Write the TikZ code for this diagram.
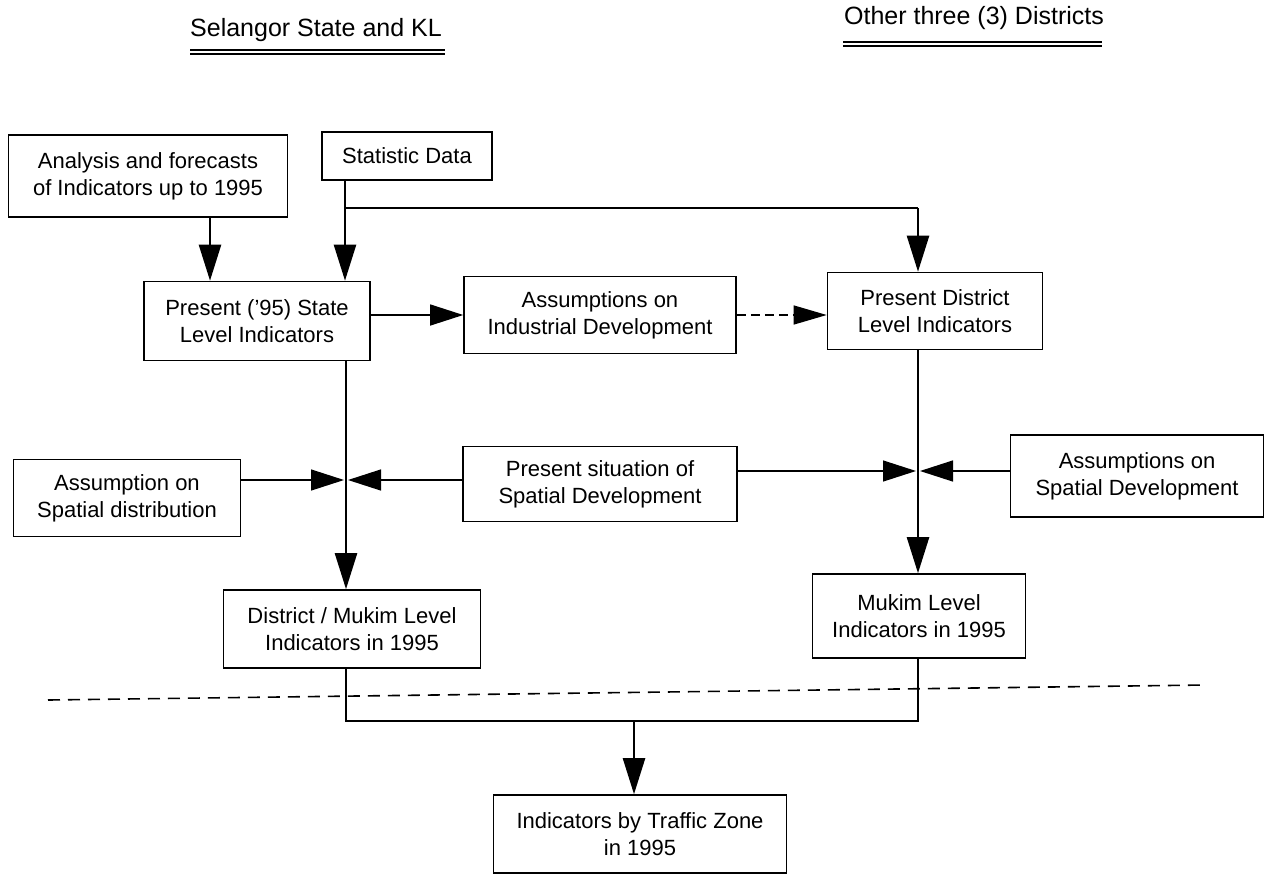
\documentclass[tikz,border=0pt]{standalone}
\usepackage{fontspec}
\setmainfont{Liberation Sans}
\usetikzlibrary{arrows.meta}
\tikzset{
  box/.style={draw, line width=1.6pt, align=center, inner sep=0pt,
    font=\fontsize{22}{27}\selectfont},
  ttl/.style={anchor=base, inner sep=0pt, font=\fontsize{25}{30}\selectfont},
  vline/.style={line width=2.4pt},
  hline/.style={line width=1.3pt},
  varr/.style={vline, -{Triangle[length=36pt,width=22pt]}},
  harr/.style={hline, -{Triangle[length=33pt,width=21pt]}},
  uline/.style={line width=1.4pt},
  dline/.style={line width=1.6pt, dash pattern=on 12pt off 8pt}
}
\begin{document}
\begin{tikzpicture}[x=1pt,y=-1pt]
\useasboundingbox (0,0) rectangle (1269,876);
% titles
\node[ttl] (t1) at (316,36) {Selangor State and KL};
\node[ttl] (t2) at (974,24) {Other three (3) Districts};
\draw[uline] (190,50) -- (445,50);
\draw[uline] (190,54) -- (445,54);
\draw[uline] (843,42) -- (1102,42);
\draw[uline] (843,46) -- (1102,46);
% boxes
\node[box, minimum width=279, minimum height=82] (ana) at (148,176) {Analysis and forecasts\\of Indicators up to 1995};
\node[box, minimum width=170, minimum height=48] (stat) at (407,156) {Statistic Data};
\node[box, minimum width=226, minimum height=79] (state) at (257,321) {Present ('95) State\\Level Indicators};
\node[box, minimum width=272, minimum height=77] (ind) at (600,315) {Assumptions on\\Industrial Development};
\node[box, minimum width=215, minimum height=77] (pdist) at (935,311) {Present District\\Level Indicators};
\node[box, minimum width=227, minimum height=77] (asd) at (127,498) {Assumption on\\Spatial distribution};
\node[box, minimum width=274, minimum height=75] (psd) at (600,484) {Present situation of\\Spatial Development};
\node[box, minimum width=253, minimum height=82] (pad) at (1137,476) {Assumptions on\\Spatial Development};
\node[box, minimum width=257, minimum height=78] (dmk) at (352,629) {District / Mukim Level\\Indicators in 1995};
\node[box, minimum width=213, minimum height=84] (mkl) at (919,616) {Mukim Level\\Indicators in 1995};
\node[box, minimum width=293, minimum height=78] (trf) at (640,834) {Indicators by Traffic Zone\\in 1995};
% helper coordinates
\coordinate (ax) at (210,0);
\coordinate (sx) at (345,0);
\coordinate (br) at (918,208);
\coordinate (jl) at (346,480);
\coordinate (jr) at (918,471);
\coordinate (jn) at (0,721);
\coordinate (tc) at (634,0);
\coordinate (dl) at (48,700);
\coordinate (dr) at (1205,685);
% connectors
\draw[varr] (ana.south -| ax) -- (state.north -| ax);
\draw[varr] (stat.south -| sx) -- (state.north -| sx);
\draw[hline] (sx |- br) -- (br);
\draw[varr] (br) -- (pdist.north -| br);
\draw[harr] (state.east |- ind.west) -- (ind.west);
\draw[hline, dash pattern=on 9pt off 5pt, -{Triangle[length=33pt,width=19pt]}] (ind.east) -- (pdist.west |- ind.east);
\draw[varr] (state.south -| jl) -- (dmk.north -| jl);
\draw[varr] (pdist.south -| jr) -- (mkl.north -| jr);
\draw[harr] (asd.east |- jl) -- ([xshift=-2]jl);
\draw[harr] (psd.west |- jl) -- ([xshift=2]jl);
\draw[harr] (psd.east |- jr) -- ([xshift=-2]jr);
\draw[harr] (pad.west |- jr) -- ([xshift=2]jr);
\draw[line width=1.8pt] (dmk.south -| jl) -- (jl |- jn) -- (jr |- jn) -- (mkl.south -| jr);
\draw[varr] (tc |- jn) -- (trf.north -| tc);
\draw[dline] (dl) -- (dr);
\end{tikzpicture}
\end{document}
